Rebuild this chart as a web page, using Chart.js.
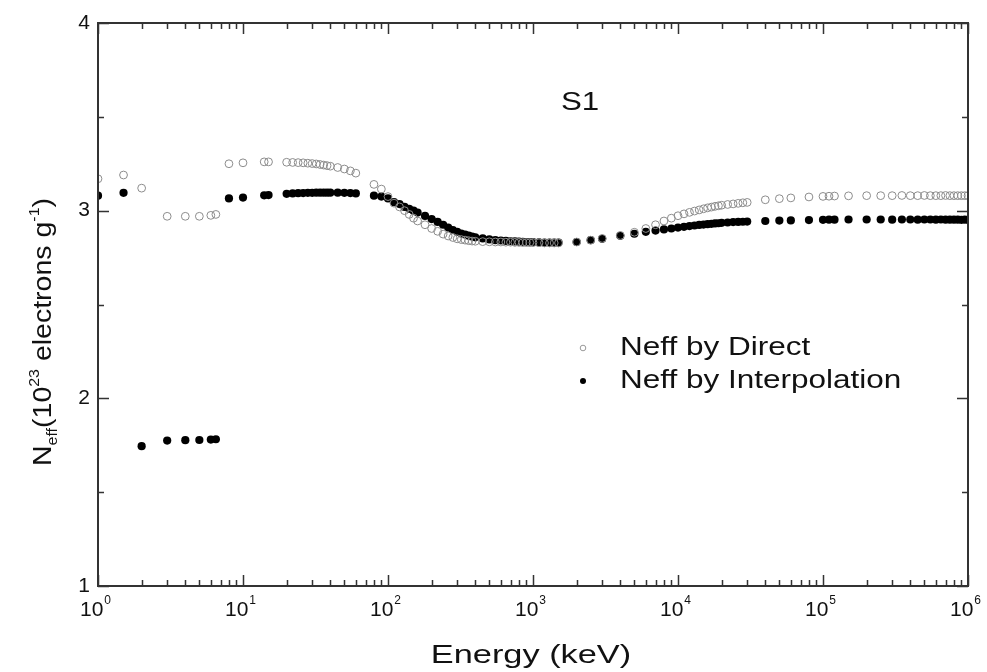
<!DOCTYPE html>
<html>
<head>
<meta charset="utf-8">
<script src="https://cdn.jsdelivr.net/npm/chart.js@4.4.0/dist/chart.umd.min.js"></script>
<style>
  html, body { margin: 0; padding: 0; background: #fff; }
  #wrap { width: 987px; height: 672px; }
</style>
</head>
<body>
<div id="wrap"><canvas id="neffChart"></canvas></div>
<script>
// photon energy (keV)
const energies = [
  1, 1.5, 2, 3, 4, 5, 6, 6.5,
  8, 10, 14, 15,
  20, 22, 24, 26, 28, 30, 32, 34, 36, 38, 40,
  45, 50, 55, 60,
  80, 90, 100,
  110, 120, 130, 140, 150, 160, 180,
  200, 220, 240, 260, 280, 300, 320, 340, 360, 380, 400,
  450, 500, 550, 600, 650, 700, 750, 800, 850, 900, 950, 1000,
  1100, 1200, 1300, 1400, 1500,
  2000, 2500, 3000,
  4000, 5000, 6000, 7000, 8000, 9000, 10000, 11000, 12000, 13000, 14000, 15000, 16000, 17000, 18000, 19000, 20000,
  22000, 24000, 26000, 28000, 30000,
  40000, 50000, 60000, 80000, 100000, 110000, 120000,
  150000, 200000, 250000, 300000, 350000, 400000, 450000, 500000, 550000, 600000, 650000, 700000, 750000, 800000, 850000, 900000, 950000, 1000000
];

const neffDirect = [
  3.17, 3.19, 3.12, 2.97, 2.97, 2.97, 2.975, 2.98,
  3.25, 3.255, 3.26, 3.26,
  3.258, 3.257, 3.256, 3.255, 3.253, 3.251, 3.249, 3.246, 3.243, 3.24, 3.237,
  3.23, 3.222, 3.212, 3.2,
  3.14, 3.115, 3.075,
  3.04, 3.02, 3.0, 2.98, 2.96, 2.945, 2.925,
  2.905, 2.89, 2.875, 2.865, 2.857, 2.85, 2.846, 2.843, 2.84, 2.838, 2.837,
  2.835, 2.834, 2.833, 2.833, 2.832, 2.832, 2.831, 2.831, 2.83, 2.83, 2.83, 2.83,
  2.829, 2.828, 2.828, 2.828, 2.828,
  2.833, 2.843, 2.852,
  2.868, 2.885, 2.905, 2.925, 2.945, 2.96, 2.973, 2.983, 2.991, 2.998, 3.004, 3.01, 3.015, 3.019, 3.023, 3.026, 3.029,
  3.033, 3.036, 3.039, 3.042, 3.044,
  3.058, 3.064, 3.068, 3.073, 3.076, 3.077, 3.078,
  3.079, 3.08, 3.08, 3.08, 3.081, 3.08, 3.08, 3.081, 3.08, 3.08, 3.08, 3.081, 3.08, 3.08, 3.08, 3.08, 3.08, 3.08
];

const neffInterp = [
  3.08, 3.095, 1.745, 1.775, 1.777, 1.778, 1.78, 1.782,
  3.065, 3.07, 3.082, 3.083,
  3.09, 3.092, 3.093, 3.094, 3.095, 3.095, 3.096, 3.096, 3.096, 3.096, 3.096,
  3.096, 3.095, 3.094, 3.092,
  3.08, 3.075, 3.065,
  3.045, 3.035, 3.02, 3.01, 3.0, 2.99, 2.972,
  2.955, 2.94, 2.925, 2.91, 2.897, 2.887, 2.878, 2.873, 2.867, 2.862, 2.858,
  2.852, 2.847, 2.843, 2.841, 2.839, 2.837, 2.836, 2.835, 2.834, 2.833, 2.832, 2.832,
  2.831, 2.83, 2.83, 2.83, 2.83,
  2.833, 2.843, 2.85,
  2.866, 2.877, 2.887, 2.894, 2.9, 2.905, 2.91, 2.914, 2.918, 2.921, 2.924, 2.926, 2.928, 2.93, 2.932, 2.933, 2.935,
  2.937, 2.939, 2.94, 2.941, 2.942,
  2.945, 2.947, 2.948, 2.95, 2.951, 2.952, 2.952,
  2.953, 2.953, 2.953, 2.952, 2.953, 2.953, 2.952, 2.953, 2.953, 2.952, 2.953, 2.952, 2.952, 2.952, 2.952, 2.951, 2.952, 2.951
];

const xTickExponents = ["0", "1", "2", "3", "4", "5", "6"];
const yTickValues = [1, 2, 3, 4];
const seriesNames = ["Neff by Direct", "Neff by Interpolation"];
const sampleLabel = "S1";

const FONT = '"Liberation Sans", Arial, sans-serif';
const INK = "#111";

// text drawn a little wider than the font, like the original figure
function wideText(ctx, text, x, y, size, sx, align) {
  ctx.save();
  ctx.font = size + "px " + FONT;
  ctx.translate(x, y);
  ctx.scale(sx, 1);
  ctx.textAlign = align || "left";
  ctx.fillText(text, 0, 0);
  ctx.restore();
}

const decorations = {
  id: "decorations",
  afterDraw(chart) {
    const { ctx, chartArea: a, scales } = chart;
    const x = scales.x, y = scales.y;
    ctx.save();

    // box
    ctx.strokeStyle = "#333";
    ctx.lineWidth = 2;
    ctx.strokeRect(a.left, a.top, a.right - a.left, a.bottom - a.top);

    // x ticks, inward on bottom and top
    ctx.lineWidth = 1.5;
    ctx.beginPath();
    for (let d = 0; d < xTickExponents.length; d++) {
      const base = Math.pow(10, d);
      const px = Math.round(x.getPixelForValue(base)) + 0.5;
      ctx.moveTo(px, a.bottom); ctx.lineTo(px, a.bottom - 11);
      ctx.moveTo(px, a.top); ctx.lineTo(px, a.top + 11);
      if (d === xTickExponents.length - 1) break;
      for (let m = 2; m <= 9; m++) {
        const mx = Math.round(x.getPixelForValue(base * m)) + 0.5;
        ctx.moveTo(mx, a.bottom); ctx.lineTo(mx, a.bottom - 6);
        ctx.moveTo(mx, a.top); ctx.lineTo(mx, a.top + 6);
      }
    }
    // y ticks, inward on left and right
    yTickValues.forEach((v, i) => {
      const py = Math.round(y.getPixelForValue(v)) + 0.5;
      ctx.moveTo(a.left, py); ctx.lineTo(a.left + 11, py);
      ctx.moveTo(a.right, py); ctx.lineTo(a.right - 11, py);
      if (i < yTickValues.length - 1) {
        const my = Math.round(y.getPixelForValue(v + 0.5)) + 0.5;
        ctx.moveTo(a.left, my); ctx.lineTo(a.left + 6, my);
        ctx.moveTo(a.right, my); ctx.lineTo(a.right - 6, my);
      }
    });
    ctx.stroke();

    // x tick labels 10^n
    ctx.fillStyle = INK;
    ctx.textBaseline = "alphabetic";
    xTickExponents.forEach((e, d) => {
      const px = x.getPixelForValue(Math.pow(10, d));
      ctx.font = "21px " + FONT;
      const wb = ctx.measureText("10").width;
      ctx.font = "12px " + FONT;
      const we = ctx.measureText(e).width;
      const left = px - (wb + we) / 2 - 3;
      ctx.font = "21px " + FONT;
      ctx.textAlign = "left";
      ctx.fillText("10", left, a.bottom + 30);
      ctx.font = "12px " + FONT;
      ctx.fillText(e, left + wb + 1, a.bottom + 18);
    });

    // x title
    wideText(ctx, "Energy (keV)", (a.left + a.right) / 2 - 2, a.bottom + 77, 26, 1.32, "center");

    // y title with sub/superscripts, rotated
    const parts = [
      { t: "N", size: 25, dy: 0 },
      { t: "eff", size: 14, dy: 6 },
      { t: "(10", size: 25, dy: 0 },
      { t: "23", size: 14, dy: -12 },
      { t: " electrons g", size: 25, dy: 0 },
      { t: "-1", size: 14, dy: -12 },
      { t: ")", size: 25, dy: 0 }
    ];
    const sy = 1.14;
    let total = 0;
    parts.forEach(p => { ctx.font = p.size + "px " + FONT; p.w = ctx.measureText(p.t).width * sy; total += p.w; });
    ctx.save();
    ctx.translate(51, 332);
    ctx.rotate(-Math.PI / 2);
    let cx = -total / 2;
    parts.forEach(p => {
      wideText(ctx, p.t, cx, p.dy, p.size, sy, "left");
      cx += p.w;
    });
    ctx.restore();

    // sample label
    ctx.textBaseline = "middle";
    wideText(ctx, sampleLabel, a.left + 482, a.top + 80, 25, 1.25, "center");

    // legend
    const lx = a.left + 485, ly = a.top + 325;
    wideText(ctx, seriesNames[0], lx + 37, ly, 25, 1.26, "left");
    wideText(ctx, seriesNames[1], lx + 37, ly + 33, 25, 1.26, "left");
    ctx.lineWidth = 1;
    ctx.strokeStyle = "#999";
    ctx.beginPath(); ctx.arc(lx, ly, 2.8, 0, Math.PI * 2); ctx.stroke();
    ctx.fillStyle = "#000";
    ctx.beginPath(); ctx.arc(lx, ly + 33, 3, 0, Math.PI * 2); ctx.fill();

    ctx.restore();
  }
};

const ctx = document.getElementById("neffChart").getContext("2d");
new Chart(ctx, {
  type: "scatter",
  data: {
    datasets: [
      {
        label: seriesNames[0],
        data: energies.map((e, i) => ({ x: e, y: neffDirect[i] })),
        pointStyle: "circle",
        pointRadius: 3.9,
        pointBorderWidth: 1,
        pointBorderColor: "#8c8c8c",
        pointBackgroundColor: "rgba(255,255,255,0)",
      },
      {
        label: seriesNames[1],
        data: energies.map((e, i) => ({ x: e, y: neffInterp[i] })),
        pointStyle: "circle",
        pointRadius: 4.1,
        pointBorderWidth: 0,
        pointBorderColor: "#000",
        pointBackgroundColor: "#000",
      },
    ],
  },
  options: {
    responsive: true,
    maintainAspectRatio: false,
    animation: false,
    layout: { padding: { top: 23, right: 19, left: 0, bottom: 0 } },
    plugins: {
      legend: { display: false },
      tooltip: { enabled: false },
    },
    scales: {
      x: {
        type: "logarithmic",
        min: 1,
        max: 1000000,
        grid: { display: false, drawTicks: false },
        border: { display: false },
        ticks: { display: false },
        afterFit(scale) { scale.height = 86; },
      },
      y: {
        type: "linear",
        min: 1,
        max: 4,
        grid: { display: false, drawTicks: false },
        border: { display: false },
        ticks: {
          stepSize: 1,
          padding: 8,
          color: INK,
          font: { family: FONT, size: 21 },
          callback: (v) => (yTickValues.includes(v) ? String(v) : ""),
        },
        afterFit(scale) { scale.width = 98; },
      },
    },
  },
  plugins: [decorations],
});
</script>
</body>
</html>
